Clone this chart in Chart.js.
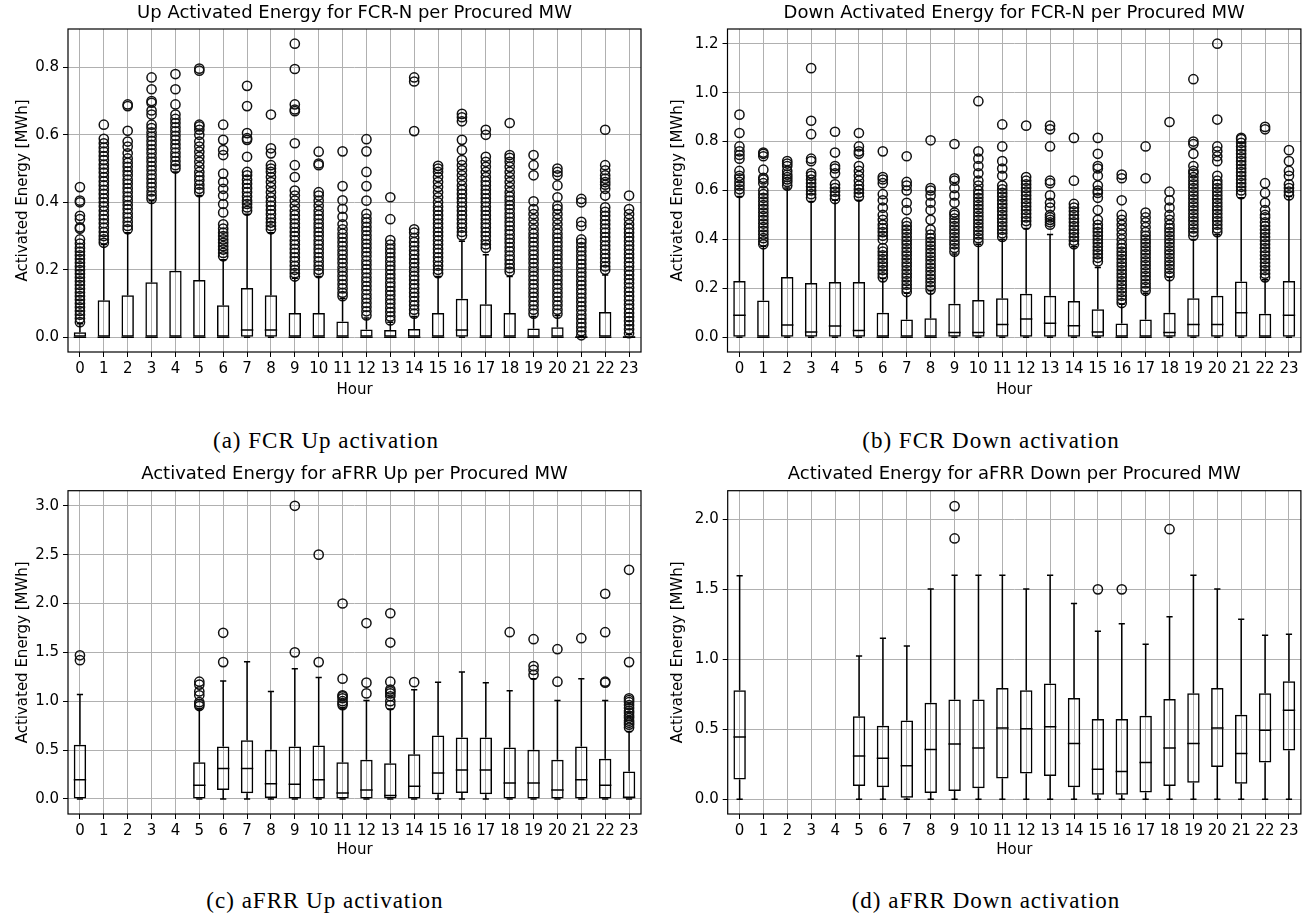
<!DOCTYPE html>
<html>
<head>
<meta charset="utf-8">
<title>Activated energy per procured MW</title>
<script src="https://cdn.jsdelivr.net/npm/chart.js@4.4.1/dist/chart.umd.min.js"></script>
<style>
  body { margin: 0; background: #fff; }
  #page { position: relative; width: 1307px; height: 915px; overflow: hidden; }
  .box { position: absolute; }
  .caption { position: absolute; transform: translateX(-50%); white-space: nowrap;
    font-family: "Liberation Serif", serif; font-size: 23px; letter-spacing: 1px;
    line-height: 1; color: #000; }
</style>
</head>
<body>
<div id="page">
  <div class="box" style="left:0;top:0;width:650px;height:400px"><canvas id="fcrUp"></canvas></div>
  <div class="box" style="left:655px;top:0;width:652px;height:400px"><canvas id="fcrDown"></canvas></div>
  <div class="box" style="left:0;top:460px;width:650px;height:400px"><canvas id="afrrUp"></canvas></div>
  <div class="box" style="left:655px;top:460px;width:652px;height:400px"><canvas id="afrrDown"></canvas></div>
  <div class="caption" style="left:326px;top:429px">(a) FCR Up activation</div>
  <div class="caption" style="left:991px;top:429px">(b) FCR Down activation</div>
  <div class="caption" style="left:325px;top:889px">(c) aFRR Up activation</div>
  <div class="caption" style="left:986px;top:889px">(d) aFRR Down activation</div>
</div>
<script>
const hours = ['0','1','2','3','4','5','6','7','8','9','10','11','12','13','14','15','16','17','18','19','20','21','22','23'];

// y tick values per panel
const fcrUpTicks = [0, 0.2, 0.4, 0.6, 0.8];
const fcrDownTicks = [0, 0.2, 0.4, 0.6, 0.8, 1.0, 1.2];
const afrrUpTicks = [0, 0.5, 1.0, 1.5, 2.0, 2.5, 3.0];
const afrrDownTicks = [0, 0.5, 1.0, 1.5, 2.0];

// (a) FCR-N up: box quartiles, median, whisker ends, fliers
const fcrUpQ1 = [0,0,0,0,0,0,0,0,0,0,0,0,0,0,0,0,0,0,0,0,0,0,0,0];
const fcrUpQ3 = [0.015,0.11,0.125,0.163,0.197,0.17,0.095,0.146,0.125,0.072,0.072,0.047,0.023,0.022,0.025,0.072,0.114,0.098,0.072,0.026,0.03,0.003,0.075,0.005];
const fcrUpMed = [0,0,0,0,0,0,0,0.022,0.022,0,0,0,0,0,0,0,0.022,0,0,0,0,0,0,0];
const fcrUpLo = [0,0,0,0,0,0,0,0,0,0,0,0,0,0,0,0,0,0,0,0,0,0,0,0];
const fcrUpHi = [0.04,0.275,0.31,0.405,0.49,0.42,0.23,0.365,0.31,0.175,0.18,0.115,0.057,0.045,0.062,0.18,0.285,0.245,0.18,0.062,0.065,0.004,0.185,0.008];
const fcrUpOut = [
  [0.045,0.056,0.067,0.078,0.089,0.1,0.111,0.122,0.133,0.144,0.155,0.166,0.177,0.188,0.199,0.21,0.221,0.232,0.243,0.254,0.265,0.278,0.29,0.322,0.326,0.35,0.36,0.4,0.405,0.445],
  [0.28,0.29,0.3,0.312,0.325,0.338,0.35,0.362,0.375,0.388,0.4,0.412,0.425,0.437,0.45,0.462,0.475,0.488,0.5,0.512,0.525,0.537,0.55,0.562,0.575,0.588,0.63],
  [0.32,0.33,0.342,0.355,0.367,0.38,0.392,0.405,0.417,0.43,0.442,0.455,0.467,0.48,0.492,0.505,0.517,0.53,0.545,0.565,0.58,0.612,0.685,0.69],
  [0.41,0.42,0.432,0.445,0.457,0.47,0.482,0.495,0.507,0.52,0.532,0.545,0.557,0.57,0.582,0.595,0.607,0.62,0.63,0.66,0.672,0.695,0.7,0.735,0.77],
  [0.5,0.51,0.522,0.535,0.547,0.56,0.572,0.585,0.597,0.61,0.622,0.635,0.647,0.66,0.69,0.735,0.78],
  [0.43,0.44,0.452,0.465,0.477,0.49,0.505,0.52,0.535,0.55,0.565,0.58,0.6,0.615,0.625,0.63,0.79,0.796],
  [0.24,0.25,0.26,0.27,0.28,0.29,0.3,0.31,0.322,0.335,0.37,0.395,0.42,0.44,0.46,0.485,0.54,0.555,0.585,0.63],
  [0.375,0.385,0.395,0.405,0.417,0.43,0.442,0.455,0.467,0.48,0.49,0.535,0.585,0.59,0.605,0.685,0.745],
  [0.32,0.33,0.34,0.352,0.365,0.377,0.39,0.402,0.415,0.43,0.445,0.46,0.475,0.49,0.5,0.51,0.545,0.56,0.66],
  [0.18,0.19,0.2,0.212,0.225,0.237,0.25,0.262,0.275,0.287,0.3,0.312,0.325,0.337,0.35,0.362,0.375,0.39,0.405,0.42,0.435,0.475,0.51,0.575,0.67,0.675,0.69,0.795,0.87],
  [0.19,0.2,0.212,0.225,0.237,0.25,0.262,0.275,0.287,0.3,0.312,0.325,0.337,0.35,0.362,0.375,0.39,0.405,0.42,0.43,0.51,0.515,0.55],
  [0.122,0.132,0.145,0.157,0.17,0.182,0.195,0.207,0.22,0.232,0.245,0.257,0.27,0.282,0.295,0.307,0.32,0.335,0.357,0.381,0.406,0.448,0.551],
  [0.065,0.077,0.09,0.102,0.115,0.127,0.14,0.152,0.165,0.177,0.19,0.202,0.215,0.227,0.24,0.252,0.265,0.277,0.29,0.302,0.315,0.327,0.34,0.352,0.366,0.405,0.448,0.49,0.551,0.587],
  [0.05,0.062,0.075,0.087,0.1,0.112,0.125,0.137,0.15,0.162,0.175,0.187,0.2,0.212,0.225,0.237,0.25,0.262,0.275,0.288,0.35,0.415],
  [0.07,0.082,0.095,0.107,0.12,0.132,0.145,0.157,0.17,0.182,0.195,0.207,0.22,0.232,0.245,0.257,0.27,0.282,0.295,0.31,0.32,0.611,0.758,0.77],
  [0.19,0.2,0.212,0.225,0.237,0.25,0.262,0.275,0.287,0.3,0.312,0.325,0.337,0.35,0.362,0.375,0.387,0.4,0.415,0.43,0.445,0.46,0.475,0.49,0.5,0.508],
  [0.302,0.312,0.325,0.337,0.35,0.362,0.375,0.387,0.4,0.412,0.425,0.437,0.45,0.465,0.48,0.495,0.51,0.525,0.555,0.585,0.64,0.652,0.662],
  [0.265,0.275,0.287,0.3,0.312,0.325,0.337,0.35,0.362,0.375,0.387,0.4,0.412,0.425,0.437,0.45,0.462,0.475,0.49,0.505,0.52,0.535,0.6,0.615],
  [0.195,0.205,0.217,0.23,0.242,0.255,0.267,0.28,0.292,0.305,0.317,0.33,0.342,0.355,0.367,0.38,0.392,0.405,0.417,0.43,0.445,0.46,0.475,0.49,0.505,0.52,0.532,0.54,0.635],
  [0.07,0.082,0.095,0.107,0.12,0.132,0.145,0.157,0.17,0.182,0.195,0.207,0.22,0.232,0.245,0.257,0.27,0.282,0.295,0.307,0.32,0.335,0.35,0.365,0.38,0.403,0.48,0.51,0.54],
  [0.07,0.082,0.095,0.107,0.12,0.132,0.145,0.157,0.17,0.182,0.195,0.207,0.22,0.232,0.245,0.257,0.27,0.282,0.295,0.307,0.32,0.335,0.35,0.365,0.38,0.39,0.415,0.45,0.48,0.49,0.5],
  [0.006,0.018,0.03,0.042,0.055,0.067,0.08,0.092,0.105,0.117,0.13,0.142,0.155,0.167,0.18,0.192,0.205,0.217,0.23,0.242,0.255,0.267,0.28,0.29,0.33,0.342,0.4,0.41],
  [0.2,0.21,0.222,0.235,0.247,0.26,0.272,0.285,0.297,0.31,0.322,0.335,0.347,0.36,0.372,0.385,0.42,0.44,0.452,0.46,0.47,0.48,0.495,0.51,0.615],
  [0.012,0.024,0.036,0.048,0.06,0.072,0.085,0.097,0.11,0.122,0.135,0.147,0.16,0.172,0.185,0.197,0.21,0.222,0.235,0.247,0.26,0.272,0.285,0.297,0.31,0.322,0.335,0.35,0.365,0.38,0.42]
];

// (b) FCR-N down
const fcrDownQ1 = [0,0,0,0,0,0,0,0,0,0,0,0,0,0,0,0,0,0,0,0,0,0,0,0];
const fcrDownQ3 = [0.23,0.15,0.246,0.222,0.226,0.226,0.1,0.073,0.078,0.137,0.153,0.16,0.178,0.17,0.148,0.115,0.056,0.073,0.1,0.16,0.17,0.228,0.096,0.23];
const fcrDownMed = [0.09,0,0.05,0.022,0.046,0.028,0,0,0,0.02,0.02,0.052,0.075,0.057,0.047,0.022,0,0,0.02,0.052,0.052,0.1,0,0.09];
const fcrDownLo = [0,0,0,0,0,0,0,0,0,0,0,0,0,0,0,0,0,0,0,0,0,0,0,0];
const fcrDownHi = [0.575,0.372,0.61,0.555,0.56,0.56,0.24,0.18,0.19,0.34,0.38,0.4,0.445,0.42,0.37,0.285,0.135,0.18,0.245,0.4,0.42,0.57,0.235,0.575];
const fcrDownOut = [
  [0.59,0.605,0.62,0.635,0.65,0.66,0.68,0.73,0.745,0.76,0.78,0.835,0.91],
  [0.38,0.392,0.405,0.42,0.435,0.45,0.465,0.48,0.495,0.51,0.525,0.54,0.555,0.57,0.585,0.6,0.63,0.645,0.652,0.685,0.74,0.75,0.755],
  [0.62,0.635,0.645,0.655,0.665,0.68,0.7,0.71,0.72],
  [0.57,0.585,0.6,0.615,0.63,0.645,0.66,0.67,0.72,0.73,0.83,0.885,1.1],
  [0.565,0.58,0.595,0.61,0.625,0.67,0.69,0.7,0.755,0.84],
  [0.575,0.59,0.605,0.62,0.64,0.66,0.68,0.7,0.75,0.76,0.78,0.835],
  [0.245,0.26,0.275,0.29,0.305,0.32,0.335,0.35,0.365,0.4,0.415,0.43,0.445,0.46,0.48,0.5,0.53,0.56,0.585,0.63,0.645,0.655,0.76],
  [0.185,0.2,0.215,0.23,0.245,0.26,0.275,0.29,0.305,0.32,0.335,0.35,0.365,0.38,0.395,0.41,0.425,0.44,0.455,0.47,0.52,0.55,0.6,0.62,0.635,0.74],
  [0.195,0.21,0.225,0.24,0.255,0.27,0.285,0.3,0.315,0.33,0.345,0.36,0.375,0.39,0.405,0.42,0.44,0.48,0.52,0.55,0.58,0.6,0.61,0.805],
  [0.35,0.365,0.38,0.395,0.41,0.425,0.44,0.455,0.47,0.485,0.5,0.51,0.55,0.58,0.61,0.64,0.65,0.79],
  [0.39,0.405,0.42,0.435,0.45,0.465,0.48,0.495,0.51,0.525,0.54,0.555,0.57,0.585,0.6,0.62,0.64,0.67,0.7,0.73,0.76,0.965],
  [0.41,0.425,0.44,0.455,0.47,0.485,0.5,0.515,0.53,0.545,0.56,0.575,0.59,0.605,0.62,0.66,0.69,0.72,0.78,0.87],
  [0.46,0.475,0.49,0.505,0.52,0.535,0.55,0.565,0.58,0.595,0.61,0.625,0.64,0.655,0.865],
  [0.46,0.47,0.48,0.49,0.5,0.53,0.55,0.58,0.63,0.64,0.78,0.85,0.865],
  [0.38,0.395,0.41,0.425,0.44,0.455,0.47,0.485,0.5,0.515,0.53,0.545,0.64,0.815],
  [0.31,0.325,0.34,0.355,0.37,0.385,0.4,0.415,0.43,0.445,0.46,0.48,0.52,0.57,0.59,0.6,0.62,0.66,0.69,0.7,0.75,0.815],
  [0.14,0.155,0.17,0.185,0.2,0.215,0.23,0.245,0.26,0.275,0.29,0.305,0.32,0.335,0.35,0.365,0.38,0.4,0.42,0.44,0.46,0.48,0.5,0.56,0.65,0.665],
  [0.19,0.205,0.22,0.235,0.25,0.265,0.28,0.295,0.31,0.325,0.34,0.355,0.37,0.385,0.4,0.415,0.43,0.45,0.47,0.49,0.51,0.65,0.78],
  [0.25,0.265,0.28,0.295,0.31,0.325,0.34,0.355,0.37,0.385,0.4,0.415,0.43,0.445,0.46,0.48,0.5,0.53,0.56,0.595,0.88],
  [0.415,0.43,0.445,0.46,0.475,0.49,0.505,0.52,0.535,0.55,0.565,0.58,0.595,0.61,0.625,0.64,0.655,0.67,0.68,0.7,0.75,0.79,0.8,1.055],
  [0.43,0.445,0.46,0.475,0.49,0.505,0.52,0.535,0.55,0.565,0.58,0.595,0.61,0.625,0.64,0.66,0.72,0.74,0.76,0.78,0.89,1.2],
  [0.585,0.6,0.615,0.63,0.645,0.66,0.675,0.69,0.705,0.72,0.735,0.75,0.765,0.78,0.795,0.81,0.815],
  [0.245,0.26,0.275,0.29,0.305,0.32,0.335,0.35,0.365,0.38,0.395,0.41,0.425,0.44,0.455,0.47,0.49,0.5,0.52,0.55,0.59,0.63,0.85,0.86],
  [0.58,0.595,0.61,0.625,0.66,0.68,0.72,0.765]
];

// (c) aFRR up (no data for hours 1-4)
const afrrUpQ1 = [0,null,null,null,null,0,0.092,0.058,0.01,0,0,0,0,0,0,0.048,0.061,0.048,0,0,0,0,0,0.005];
const afrrUpQ3 = [0.553,null,null,null,null,0.375,0.536,0.6,0.502,0.536,0.546,0.375,0.4,0.365,0.457,0.648,0.628,0.628,0.526,0.502,0.4,0.536,0.41,0.28];
const afrrUpMed = [0.195,null,null,null,null,0.14,0.31,0.31,0.154,0.15,0.195,0.061,0.092,0.034,0.13,0.266,0.297,0.297,0.164,0.164,0.092,0.195,0.14,0.017];
const afrrUpLo = [0,null,null,null,null,0,0,0,0,0,0,0,0,0,0,0,0,0,0,0,0,0,0,0];
const afrrUpHi = [1.068,null,null,null,null,0.92,1.208,1.403,1.1,1.331,1.242,0.93,1.007,0.92,1.116,1.195,1.3,1.19,1.106,1.23,1.007,1.229,1.007,0.69];
const afrrUpOut = [
  [1.42,1.47],[],[],[],[],
  [0.95,0.97,0.99,1.06,1.1,1.17,1.2],
  [1.4,1.7],[],[],
  [1.5,3.0],
  [1.4,2.5],
  [0.96,0.98,1.0,1.03,1.05,1.06,1.23,2.0],
  [1.08,1.19,1.8],
  [0.96,1.0,1.05,1.08,1.1,1.12,1.2,1.6,1.9],
  [1.195],[],[],[],
  [1.706],
  [1.27,1.32,1.36,1.635],
  [1.2,1.532],
  [1.645],
  [1.19,1.2,1.706,2.1],
  [0.73,0.76,0.78,0.8,0.83,0.85,0.88,0.9,0.93,0.96,0.99,1.01,1.03,1.4,2.345]
];

// (d) aFRR down (no data for hours 1-4)
const afrrDownQ1 = [0.141,null,null,null,null,0.095,0.086,0.012,0.045,0.06,0.079,0.148,0.184,0.167,0.086,0.033,0.033,0.048,0.095,0.119,0.231,0.112,0.263,0.348];
const afrrDownQ3 = [0.78,null,null,null,null,0.594,0.525,0.563,0.69,0.714,0.714,0.795,0.78,0.828,0.723,0.573,0.573,0.597,0.716,0.757,0.795,0.604,0.757,0.843];
const afrrDownMed = [0.446,null,null,null,null,0.31,0.294,0.239,0.356,0.396,0.367,0.51,0.504,0.518,0.399,0.215,0.198,0.263,0.367,0.399,0.51,0.327,0.494,0.637];
const afrrDownLo = [0,null,null,null,null,0,0,0,0,0,0,0,0,0,0,0,0,0,0,0,0,0,0,0];
const afrrDownHi = [1.597,null,null,null,null,1.024,1.15,1.095,1.503,1.6,1.6,1.6,1.503,1.6,1.399,1.2,1.255,1.107,1.305,1.6,1.503,1.286,1.172,1.179];
const afrrDownOut = [
  [],[],[],[],[],[],[],[],[],
  [1.864,2.095],
  [],[],[],[],[],
  [1.5],[1.5],[],
  [1.93],
  [],[],[],[],[]
];

Chart.defaults.font.family = '"DejaVu Sans", sans-serif';
Chart.defaults.font.size = 15;
Chart.defaults.color = '#000';

// area = plot rectangle inside the canvas box, titleY = baseline of the title
function boxPanel(id, title, q1, q3, med, lo, hi, out, yMin, yMax, yTicks, area) {
  const canvas = document.getElementById(id);
  const W = canvas.parentNode.clientWidth;
  const H = canvas.parentNode.clientHeight;

  const fliers = [];
  out.forEach((vals, i) => vals.forEach(v => fliers.push({ x: hours[i], y: v })));

  const boxParts = {
    id: 'boxParts',
    afterDatasetsDraw(chart) {
      const { ctx, chartArea: ca, scales: { x, y } } = chart;
      const bars = chart.getDatasetMeta(0).data;
      ctx.save();
      ctx.strokeStyle = '#000';
      ctx.lineWidth = 1.5;
      med.forEach((m, i) => {
        if (m === null) return;
        const cx = x.getPixelForValue(i);
        const hw = bars[i].width / 2;
        const yLo = y.getPixelForValue(lo[i]);
        const yHi = y.getPixelForValue(hi[i]);
        const yQ1 = y.getPixelForValue(q1[i]);
        const yQ3 = y.getPixelForValue(q3[i]);
        const yM = y.getPixelForValue(m);
        ctx.beginPath();
        ctx.moveTo(cx, yQ1); ctx.lineTo(cx, yLo);
        ctx.moveTo(cx, yQ3); ctx.lineTo(cx, yHi);
        ctx.moveTo(cx - hw / 2, yLo); ctx.lineTo(cx + hw / 2, yLo);
        ctx.moveTo(cx - hw / 2, yHi); ctx.lineTo(cx + hw / 2, yHi);
        ctx.moveTo(cx - hw, yM); ctx.lineTo(cx + hw, yM);
        ctx.stroke();
      });
      ctx.lineWidth = 1.2;
      ctx.strokeRect(ca.left, ca.top, ca.right - ca.left, ca.bottom - ca.top);
      ctx.font = '18px "DejaVu Sans"';
      ctx.fillStyle = '#000';
      ctx.textAlign = 'center';
      ctx.fillText(title, (ca.left + ca.right) / 2, area.titleY);
      ctx.restore();
    }
  };

  const gridOpts = { color: '#b0b0b0', lineWidth: 1, tickColor: '#000', tickLength: 5 };

  new Chart(canvas, {
    type: 'bar',
    data: {
      labels: hours,
      datasets: [
        {
          data: q1.map((v, i) => v === null ? null : [v, q3[i]]),
          backgroundColor: 'rgba(0,0,0,0)',
          borderColor: '#000',
          borderWidth: 1.5,
          borderSkipped: false,
          barPercentage: 0.52,
          categoryPercentage: 1,
          order: 2
        },
        {
          type: 'line',
          data: fliers,
          showLine: false,
          pointRadius: 4.6,
          pointBorderWidth: 1.5,
          pointBorderColor: '#111',
          pointBackgroundColor: 'rgba(0,0,0,0)',
          order: 1
        }
      ]
    },
    options: {
      responsive: true,
      maintainAspectRatio: false,
      animation: false,
      events: [],
      layout: { padding: { top: area.top, right: W - area.right, left: 0, bottom: 0 } },
      plugins: { legend: { display: false }, tooltip: { enabled: false } },
      scales: {
        x: {
          grid: Object.assign({ offset: false }, gridOpts),
          border: { display: false },
          ticks: { maxRotation: 0, autoSkip: false, padding: 3 },
          title: { display: true, text: 'Hour', padding: { top: 0, bottom: 1 } },
          afterFit: s => { s.height = H - area.bottom; }
        },
        y: {
          min: yMin,
          max: yMax,
          grid: gridOpts,
          border: { display: false },
          ticks: { padding: 4, callback: v => v.toFixed(1) },
          afterBuildTicks: s => { s.ticks = yTicks.map(v => ({ value: v })); },
          title: { display: true, text: 'Activated Energy [MWh]', padding: { top: 14, bottom: 0 } },
          afterFit: s => { s.width = area.left; }
        }
      }
    },
    plugins: [boxParts]
  });
}

boxPanel('fcrUp', 'Up Activated Energy for FCR-N per Procured MW',
  fcrUpQ1, fcrUpQ3, fcrUpMed, fcrUpLo, fcrUpHi, fcrUpOut, -0.0435, 0.9135, fcrUpTicks,
  { left: 68, right: 641, top: 29, bottom: 352, titleY: 17.5 });
boxPanel('fcrDown', 'Down Activated Energy for FCR-N per Procured MW',
  fcrDownQ1, fcrDownQ3, fcrDownMed, fcrDownLo, fcrDownHi, fcrDownOut, -0.06, 1.26, fcrDownTicks,
  { left: 72.5, right: 646, top: 29, bottom: 352, titleY: 17.5 });
boxPanel('afrrUp', 'Activated Energy for aFRR Up per Procured MW',
  afrrUpQ1, afrrUpQ3, afrrUpMed, afrrUpLo, afrrUpHi, afrrUpOut, -0.1545, 3.1545, afrrUpTicks,
  { left: 68, right: 641, top: 30.7, bottom: 354, titleY: 19 });
boxPanel('afrrDown', 'Activated Energy for aFRR Down per Procured MW',
  afrrDownQ1, afrrDownQ3, afrrDownMed, afrrDownLo, afrrDownHi, afrrDownOut, -0.105, 2.205, afrrDownTicks,
  { left: 72.7, right: 646, top: 30.7, bottom: 354, titleY: 19 });
</script>
</body>
</html>
